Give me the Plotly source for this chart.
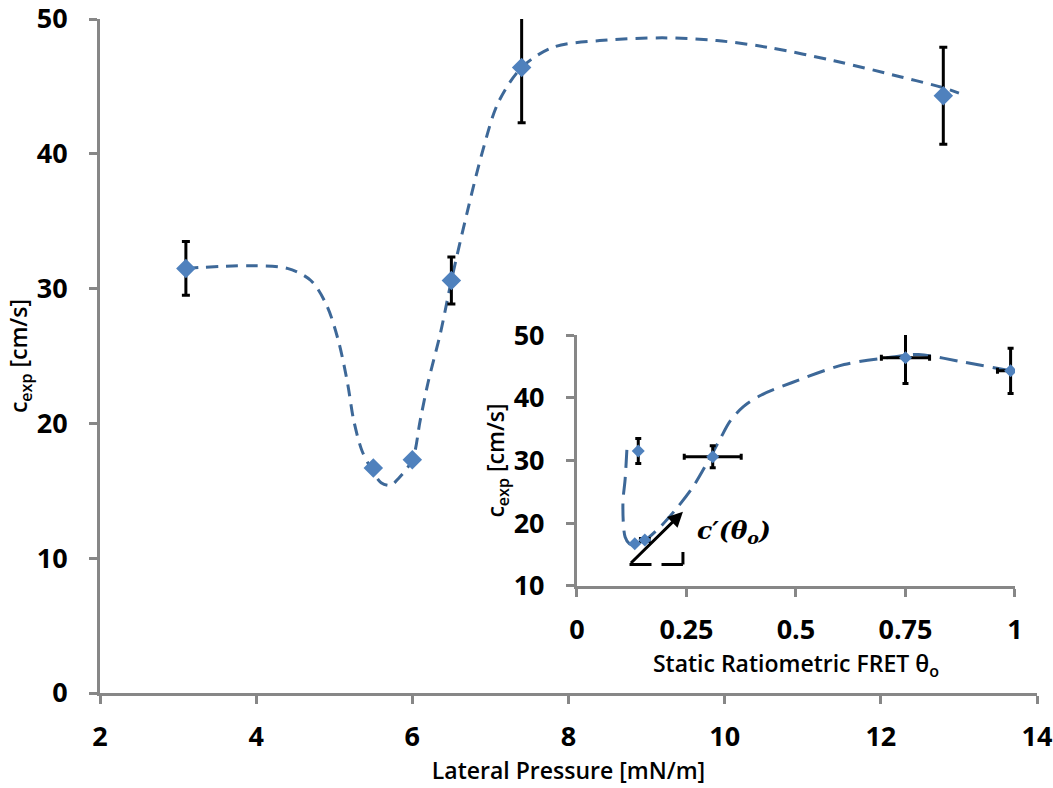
import plotly.graph_objects as go

# ---- main chart data ----
pressure = [3.1, 5.5, 6.0, 6.5, 7.4, 12.8]
c_exp = [31.5, 16.7, 17.3, 30.6, 46.4, 44.3]
c_err = [2.0, 0.0, 0.0, 1.75, 4.1, 3.6]

fit_p = [3.1, 3.9, 4.4, 4.7, 4.9, 5.05, 5.17, 5.25, 5.36, 5.49, 5.6, 5.72, 5.82, 6.0, 6.1, 6.2,
         6.36, 6.5, 6.7, 6.9, 7.1, 7.4, 7.8, 8.4, 9.2, 9.9, 10.55, 11.4, 12.26, 12.8, 13.0]
fit_c = [31.5, 31.7, 31.5, 30.6, 28.8, 26.2, 23.0, 20.2, 17.9, 16.5, 15.6, 15.4, 15.9, 17.3, 20.2, 23.0,
         26.7, 30.6, 35.6, 40.2, 43.8, 46.4, 47.9, 48.4, 48.6, 48.4, 47.9, 46.9, 45.7, 44.9, 44.5]

# ---- inset data ----
theta = [0.14, 0.132, 0.155, 0.31, 0.75, 0.99]
theta_err = [0.0, 0.0, 0.01, 0.065, 0.055, 0.03]
c_in = [31.5, 16.7, 17.3, 30.6, 46.4, 44.3]
c_in_err = [2.0, 0.0, 0.0, 1.75, 4.1, 3.6]

fit_t = [0.114, 0.11, 0.105, 0.11, 0.12, 0.128, 0.15, 0.19, 0.228, 0.265, 0.297, 0.326, 0.35,
         0.38, 0.42, 0.49, 0.61, 0.72, 0.78, 0.875, 0.99]
fit_ci = [31.7, 27.0, 23.2, 17.8, 16.7, 16.5, 17.0, 19.4, 22.4, 25.8, 29.6, 33.3, 36.3,
          38.6, 40.4, 42.4, 45.3, 46.5, 46.9, 45.8, 44.3]

x_ticks = [2, 4, 6, 8, 10, 12, 14]
y_ticks = [0, 10, 20, 30, 40, 50]
tx_ticks = [0, 0.25, 0.5, 0.75, 1]
tx_labels = ["0", "0.25", "0.5", "0.75", "1"]
ty_ticks = [10, 20, 30, 40, 50]

AX = "#878787"
LINE = "#3D6898"
MARK = "#4F81BD"
FONT = "Open Sans"

fig = go.Figure()

fig.add_trace(go.Scatter(x=fit_p, y=fit_c, mode="lines",
                         line=dict(color=LINE, width=3, dash="12px,8px", shape="spline", smoothing=0.9),
                         xaxis="x", yaxis="y", hoverinfo="skip"))
fig.add_trace(go.Scatter(x=pressure, y=c_exp, mode="markers",
                         marker=dict(symbol="diamond", size=15, color=MARK),
                         error_y=dict(type="data", array=c_err, color="black", thickness=3, width=4),
                         xaxis="x", yaxis="y"))

fig.add_trace(go.Scatter(x=fit_t, y=fit_ci, mode="lines",
                         line=dict(color=LINE, width=3, dash="18px,9px", shape="spline", smoothing=0.9),
                         xaxis="x2", yaxis="y2", hoverinfo="skip"))
fig.add_trace(go.Scatter(x=theta, y=c_in, mode="markers",
                         marker=dict(symbol="diamond", size=10, color=MARK),
                         error_y=dict(type="data", array=c_in_err, color="black", thickness=3, width=3),
                         error_x=dict(type="data", array=theta_err, color="black", thickness=3, width=3),
                         xaxis="x2", yaxis="y2"))

axis_common = dict(showgrid=False, zeroline=False, showline=True, linecolor=AX, linewidth=3,
                   ticks="outside", tickcolor=AX, tickwidth=3, ticklen=8, automargin=False,
                   ticklabeloverflow="allow",
                   tickfont=dict(family=FONT, size=27, color="black", weight="bold"))
title_font = dict(family=FONT, size=23, color="black", weight=600)

fig.update_layout(
    width=1053, height=788,
    margin=dict(l=100, r=16, t=19, b=95),
    paper_bgcolor="white", plot_bgcolor="white",
    showlegend=False,
    xaxis=dict(range=[2, 14], tickvals=x_ticks, ticklabelstandoff=10,
               title=dict(text="Lateral Pressure [mN/m]", font=title_font, standoff=10),
               **axis_common),
    yaxis=dict(range=[0, 50], tickvals=y_ticks, ticklabelstandoff=16,
               title=dict(text="c<sub>exp</sub> [cm/s]", font=title_font, standoff=2),
               **axis_common),
    xaxis2=dict(domain=[0.509, 0.9765], anchor="y2", range=[0, 1], tickvals=tx_ticks, ticktext=tx_labels,
                ticklabelstandoff=10,
                title=dict(text="Static Ratiometric FRET θ<sub>o</sub>", font=title_font, standoff=8),
                **axis_common),
    yaxis2=dict(domain=[0.159, 0.531], anchor="x2", range=[10, 50], tickvals=ty_ticks, ticklabelstandoff=16,
                title=dict(text="c<sub>exp</sub> [cm/s]", font=title_font, standoff=2),
                **axis_common),
)

# slope triangle annotation in inset
fig.add_annotation(x=0.242, y=21.8, ax=0.12, ay=13.4, xref="x2", yref="y2", axref="x2", ayref="y2",
                   showarrow=True, arrowhead=2, arrowsize=1, arrowwidth=3, arrowcolor="black", text="")
fig.add_shape(type="line", xref="x2", yref="y2", x0=0.12, y0=13.4, x1=0.242, y1=13.4,
              line=dict(color="black", width=3, dash="22px,10px"))
fig.add_shape(type="line", xref="x2", yref="y2", x0=0.242, y0=13.4, x1=0.242, y1=15.4,
              line=dict(color="black", width=3))
fig.add_annotation(x=0.27, y=18.6, xref="x2", yref="y2", xanchor="left", yanchor="middle", showarrow=False,
                   text="<b><i>c′(θ<sub>o</sub>)</i></b>", font=dict(family="DejaVu Serif", size=25, color="black"))

# remove the default 8px page margin so the figure fills the window exactly
fig.write_html("out.html", config={"displayModeBar": False},
               post_script="document.body.style.margin='0';document.body.style.overflow='hidden';")
